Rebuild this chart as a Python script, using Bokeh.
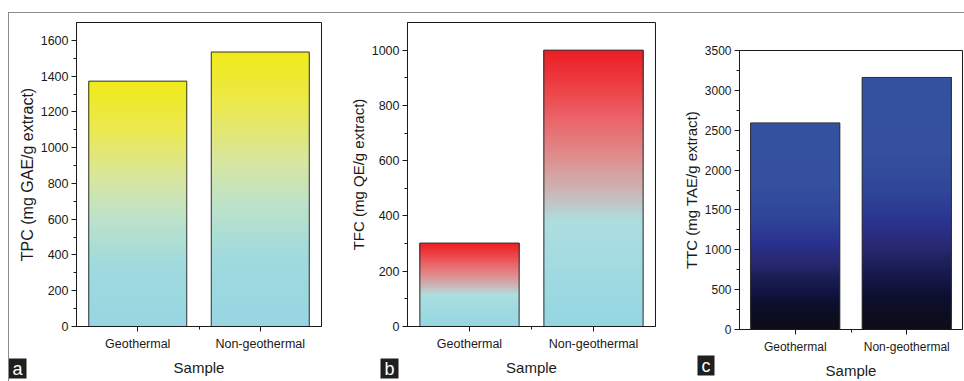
import numpy as np
from bokeh.plotting import figure
from bokeh.layouts import row, column
from bokeh.models import FixedTicker, Title, Range1d, ColumnDataSource
from bokeh.embed import file_html
from bokeh.resources import INLINE

# ---------------- data ----------------
samples = ["Geothermal", "Non-geothermal"]
tpc = [1372, 1535]      # mg GAE/g extract
tfc = [302, 1000]       # mg QE/g extract
ttc = [2592, 3162]      # mg TAE/g extract

tpc_ticks = [0, 200, 400, 600, 800, 1000, 1200, 1400, 1600]
tfc_ticks = [0, 200, 400, 600, 800, 1000]
ttc_ticks = [0, 500, 1000, 1500, 2000, 2500, 3000, 3500]

# gradient stops (fraction of bar height, rgb)
grad_a = [(0.0, (150, 214, 226)), (0.25, (160, 218, 222)), (0.45, (190, 226, 200)),
          (0.6, (215, 230, 160)), (0.8, (235, 233, 80)), (1.0, (240, 234, 25))]
grad_b = [(0.0, (148, 214, 226)), (0.38, (172, 222, 224)), (0.44, (192, 200, 200)),
          (0.5, (205, 178, 178)), (0.6, (222, 145, 146)), (0.75, (235, 100, 105)),
          (0.9, (236, 55, 60)), (1.0, (236, 30, 36))]
grad_c = [(0.0, (14, 12, 22)), (0.12, (12, 14, 45)), (0.22, (22, 25, 75)),
          (0.32, (40, 40, 110)), (0.42, (42, 50, 142)), (0.55, (48, 70, 152)),
          (0.7, (52, 80, 158)), (1.0, (52, 82, 160))]

FONT = "Liberation Sans"
N_SLICES = 90


def interp_color(stops, f):
    for (f0, c0), (f1, c1) in zip(stops[:-1], stops[1:]):
        if f <= f1:
            t = 0 if f1 == f0 else (f - f0) / (f1 - f0)
            r = [round(a + (b - a) * t) for a, b in zip(c0, c1)]
            return "#%02x%02x%02x" % tuple(r)
    return "#%02x%02x%02x" % stops[-1][1]


def panel(values, ticks, ymax, ylabel, stops, width, height, mb, ylab_size, tick_size,
          letter, letter_dx, letter_standoff):
    p = figure(width=width, height=height, output_backend="svg", toolbar_location=None,
               title_location=None,
               x_range=Range1d(0, len(samples)), y_range=Range1d(0, ymax),
               min_border_left=mb[0], min_border_right=mb[1],
               min_border_top=mb[2], min_border_bottom=mb[3])
    p.xgrid.visible = False
    p.ygrid.visible = False
    p.outline_line_color = "#1a1a1a"
    p.outline_line_width = 1
    p.background_fill_color = "white"
    p.border_fill_color = "white"

    bw = 0.8
    left, right, bottom, top, colors = [], [], [], [], []
    for i, v in enumerate(values):
        c = i + 0.5
        for k in range(N_SLICES):
            f = k / N_SLICES
            left.append(c - bw / 2)
            right.append(c + bw / 2)
            bottom.append(v * f)
            top.append(v)
            colors.append(interp_color(stops, f + 0.5 / N_SLICES))
    src = ColumnDataSource(dict(left=left, right=right, bottom=bottom, top=top, color=colors))
    p.quad(left="left", right="right", bottom="bottom", top="top", fill_color="color",
           line_color=None, source=src)
    xs = [i + 0.5 for i in range(len(values))]
    p.quad(left=[x - bw / 2 for x in xs], right=[x + bw / 2 for x in xs],
           bottom=[0] * len(values), top=values, fill_color=None,
           line_color="#333333", line_width=1)

    # axes
    p.xaxis.ticker = FixedTicker(ticks=xs, minor_ticks=[1.0])
    p.xaxis.major_label_overrides = {x: s for x, s in zip(xs, samples)}
    step = ticks[1] - ticks[0]
    p.yaxis.ticker = FixedTicker(ticks=ticks, minor_ticks=[t + step / 2 for t in ticks[:-1]])
    for ax in (p.xaxis[0], p.yaxis[0]):
        ax.axis_line_color = "#1a1a1a"
        ax.major_tick_line_color = "#1a1a1a"
        ax.minor_tick_line_color = "#1a1a1a"
        ax.major_tick_out = 5
        ax.major_tick_in = 0
        ax.minor_tick_out = 3
        ax.minor_tick_in = 0
        ax.major_label_text_font = FONT
        ax.major_label_text_font_size = tick_size
        ax.major_label_text_color = "#1a1a1a"
        ax.axis_label_text_font = FONT
        ax.axis_label_text_font_style = "normal"
        ax.axis_label_text_color = "#1a1a1a"
    p.xaxis.axis_label = "Sample"
    p.xaxis.axis_label_text_font_size = "15px"
    p.xaxis.major_label_standoff = 5
    p.xaxis.axis_label_standoff = 5
    p.yaxis.axis_label = ylabel
    p.yaxis.axis_label_text_font_size = ylab_size
    p.yaxis.major_label_standoff = 3
    p.yaxis.axis_label_standoff = 2

    # panel letter as a title below the axis (side panels are not clipped)
    t = Title(text=letter, align="left", vertical_align="top", offset=letter_dx,
              standoff=letter_standoff, text_font=FONT, text_font_size="18px",
              text_font_style="normal", text_color="white",
              background_fill_color="#1f1f1f", padding=(4, 0))
    p.add_layout(t, "below")
    return p


pa = panel(tpc, tpc_ticks, 1700, "TPC (mg GAE/g extract)", grad_a, 321, 368,
           (67, 9, 9, 55), "16px", "12.5px", "a", -68, -40)
pb = panel(tfc, tfc_ticks, 1100, "TFC (mg QE/g extract)", grad_b, 338, 368,
           (77, 13, 9, 55), "15px", "12.5px", "b", -27, -40)
pc = panel(ttc, ttc_ticks, 3500, "TTC (mg TAE/g extract)", grad_c, 296, 368,
           (71, 2, 37, 50), "15px", "12px", "c", -42, -52)

layout = row(column(pa), column(pb), column(pc),
             styles={"margin-top": "12px", "margin-left": "8px",
                     "border-top": "1px solid #8a8a8a",
                     "border-left": "1px solid #8a8a8a"})

open("out.html", "w").write(file_html(layout, INLINE))
